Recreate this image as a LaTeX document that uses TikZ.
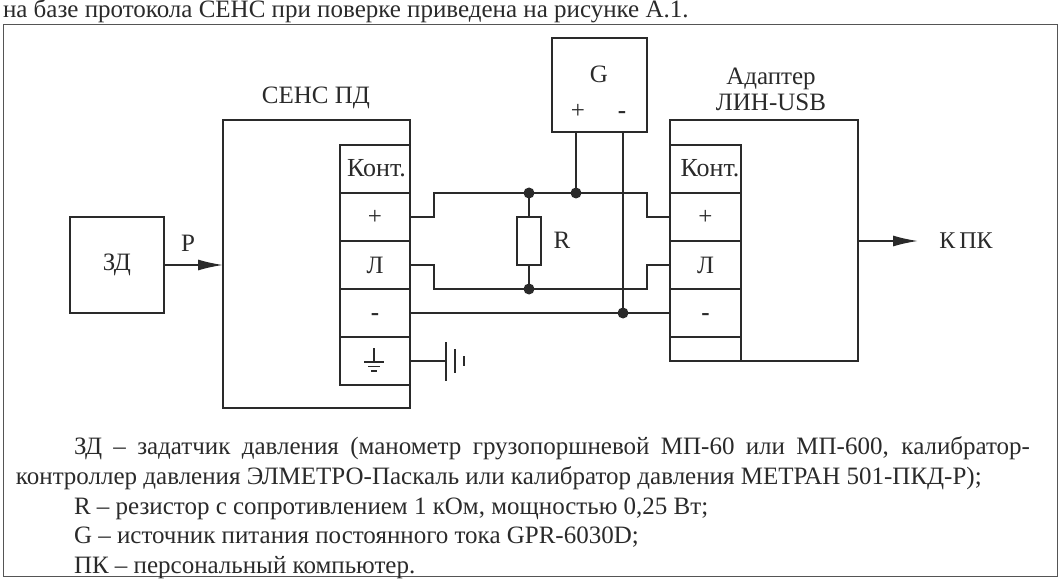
\documentclass[tikz,border=0pt]{standalone}
\usepackage{fontspec}
\setmainfont{Liberation Serif}
\usetikzlibrary{arrows.meta}
\definecolor{ink}{HTML}{2A2A2A}
\tikzset{
  x=1pt,y=-1pt,
  every node/.style={text=ink,font=\fontsize{25}{26}\selectfont},
  wire/.style={draw=ink,line width=1.5pt},
  boxn/.style={draw=ink,line width=1.5pt,anchor=north west,outer sep=0pt,inner sep=0pt,align=center},
  cell/.style={boxn,minimum width=70pt,minimum height=48pt},
  lab/.style={inner sep=0pt,outer sep=0pt},
  para/.style={inner sep=0pt,outer sep=0pt,anchor=base west,font=\fontsize{25}{26}\selectfont},
  dot/.style={circle,fill=ink,draw=none,minimum size=11pt,inner sep=0pt},
  arr/.style={wire,-{Latex[length=25pt,width=11pt]}},
  kont/.style={font=\fontsize{26}{26}\selectfont},
}
\newcommand{\lowminus}{\raisebox{-7.5pt}[0pt][0pt]{\textbf{-}}}
\begin{document}
\begin{tikzpicture}
\useasboundingbox (0,0) rectangle (1060,580);
\node[para] (head) at (3,18) {на базе протокола СЕНС при поверке приведена на рисунке А.1.};
\node[boxn,draw=ink!80,line width=1pt,minimum width=1054pt,minimum height=551pt] (frame) at (3,25) {};
% SENS
\node[boxn,minimum width=187pt,minimum height=288pt] (sens) at (223,120) {};
\node[lab] (senslab) at (316,98) {СЕНС ПД};
\node[cell,kont] (sk) at (340,145) {\hspace*{3pt}\raisebox{1.5pt}{Конт.}};
\node[cell] (sp) at (340,193) {+};
\node[cell] (sl) at (340,241) {\raisebox{-1.5pt}{Л}};
\node[cell] (sm) at (340,289) {\lowminus};
\node[cell] (sg) at (340,337) {};
% adapter
\node[boxn,minimum width=188pt,minimum height=241pt] (ad) at (670,120) {};
\node[lab,align=center] (adlab) at (771,89) {Адаптер\\ЛИН-USB};
\node[cell,kont,minimum width=71pt] (ak) at (670,145) {\hspace*{9pt}\raisebox{1.5pt}{Конт.}};
\node[cell,minimum width=71pt] (ap) at (670,193) {+};
\node[cell,minimum width=71pt] (al) at (670,241) {\raisebox{-1.5pt}{Л}};
\node[cell,minimum width=71pt] (am) at (670,289) {\lowminus};
\node[cell,minimum width=71pt,minimum height=24pt] (ag) at (670,337) {};
% G
\node[boxn,minimum width=95pt,minimum height=94pt] (g) at (552,38) {};
\node[lab] (glab) at (599,74) {G};
\node[lab] (gp) at (578,111) {+};
\node[lab] (gm) at (622,111) {\lowminus};
% ZD
\node[boxn,minimum width=94pt,minimum height=96pt] (zd) at (70,217) {\raisebox{-3pt}{ЗД}};
\node[lab] (plab) at (188,243) {P};
\node[lab,font=\fontsize{24}{26}\selectfont] (pc) at (966,241) {К\hspace{4pt}ПК};
% R
\node[boxn,minimum width=24pt,minimum height=48pt] (r) at (517,217) {};
\node[lab] (rlab) at (562,240) {R};
% junctions
\node[dot] (j1) at (529,193) {};
\node[dot] (j2) at (529,289) {};
\node[dot] (j3) at (576,193) {};
\node[dot] (j4) at (623,313) {};
\coordinate (tpc) at (918,241);
% wires
\draw[wire] (sp.east) -- ++(24,0) |- (j1.center) -- (j3.center) -| (647,217) -- (ap.west);
\draw[wire] (sl.east) -- ++(24,0) |- (j2.center) -| (647,265) -- (al.west);
\draw[wire] (sm.east) -- (am.west);
\draw[wire] (j1.center) -- (r.north);
\draw[wire] (r.south) -- (j2.center);
\draw[wire] (j3.center) -- (j3|-g.south);
\draw[wire] (j4.center) -- (j4|-g.south);
\draw[arr] (zd.east) -- (sens.west|-zd.east);
\draw[arr] (ad.east|-tpc) -- (tpc);
% earth on cell
\draw[wire,line width=1.1pt] (374,348) -- (374,362) (364,362) -- (384,362) (368,366.5) -- (380,366.5) (371,371) -- (377,371);
% battery
\coordinate (b1) at (446,361);
\draw[wire] (sg.east) -- (b1);
\draw[wire] (446,342) -- (446,381) (455,349) -- (455,373) (464,356) -- (464,366);
% caption
\node[para] (l1) at (74,454) {\makebox[956pt][s]{ЗД – задатчик давления (манометр грузопоршневой МП-60 или МП-600, калибратор-}};
\node[para] (l2) at (16,484) {контроллер давления ЭЛМЕТРО-Паскаль или калибратор давления МЕТРАН 501-ПКД-Р);};
\node[para] (l3) at (74,514) {R – резистор с сопротивлением 1 кОм, мощностью 0,25 Вт;};
\node[para] (l4) at (74,543) {G – источник питания постоянного тока GPR-6030D;};
\node[para] (l5) at (74,573) {ПК – персональный компьютер.};
\end{tikzpicture}
\end{document}
